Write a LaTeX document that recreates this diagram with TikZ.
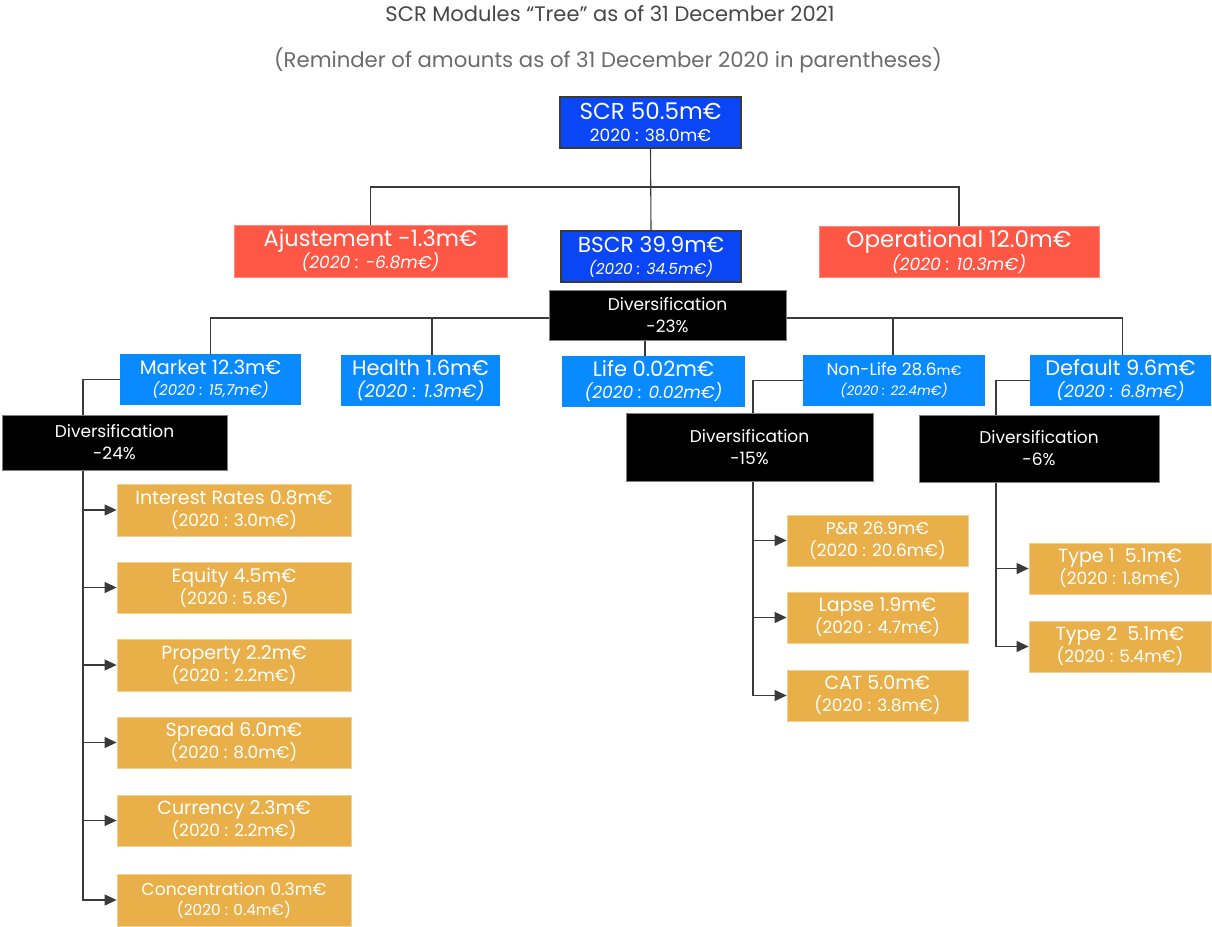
\documentclass[tikz,border=0pt]{standalone}
\usepackage{fontspec}
\setmainfont{Poppins}
\usetikzlibrary{arrows.meta}
\pgfdeclarelayer{background}
\pgfsetlayers{background,main}
\definecolor{dblue}{HTML}{0A46F5}
\definecolor{lblue}{HTML}{0A8AFF}
\definecolor{tred}{HTML}{FF5745}
\definecolor{torange}{HTML}{E9B04A}
\definecolor{lnc}{HTML}{3A3A3A}
\newcommand\fsz[2]{\fontsize{#1}{#2}\selectfont}
\tikzset{
  bx/.style={rectangle, inner sep=0pt, align=center, text=white, font=\fsz{17}{22}},
  dbbox/.style={bx, fill=dblue, draw=lnc, line width=1.8pt},
  lbbox/.style={bx, fill=lblue},
  rdbox/.style={bx, fill=tred, draw=tred!70!white, line width=0.6pt},
  blbox/.style={bx, fill=black, draw=gray, line width=0.6pt},
  orbox/.style={bx, fill=torange, draw=torange!60!white, line width=0.8pt},
  conn/.style={draw=lnc, line width=1.1pt},
  arr/.style={conn, -{Triangle[length=12pt,width=11pt]}},
}
\begin{document}
\begin{tikzpicture}[x=1pt,y=-1pt]
\begin{pgfonlayer}{background}
\path[use as bounding box, fill=white] (0,0) rectangle (1212,926);
\end{pgfonlayer}

\node[font=\fsz{21}{22}, text=black!72] (title) at (610,14) {SCR Modules “Tree” as of 31 December 2021};
\node[font=\fsz{21.2}{23}, text=black!58] (sub) at (608,60) {(Reminder of amounts as of 31 December 2020 in parentheses)};

% level 1
\node[dbbox, minimum width=181, minimum height=51] (SCR) at (650.5,122.5)
  {\fsz{23}{23}SCR 50.5m€\\\fsz{17}{17}2020 : 38.0m€};
\node[rdbox, minimum width=273, minimum height=52] (AJ) at (370.5,251)
  {\fsz{22.5}{22}Ajustement -1.3m€\\\fsz{17}{17}\itshape (2020 : -6.8m€)};
\node[dbbox, minimum width=180, minimum height=51] (BSCR) at (651,256.5)
  {\fsz{21.7}{21}BSCR 39.9m€\\\fsz{15.3}{15}\itshape (2020 : 34.5m€)};
\node[rdbox, minimum width=280, minimum height=51] (OP) at (959,251.5)
  {\fsz{23}{23}Operational 12.0m€\\\fsz{17.2}{17}\itshape (2020 : 10.3m€)};

\node[blbox, minimum width=237, minimum height=50] (D23) at (667.5,315)
  {Diversification\\-23\%};

% level 2
\node[lbbox, minimum width=181, minimum height=51, font=\fsz{15}{21}] (MK) at (210.5,379.5)
  {\fsz{19.6}{19}Market 12.3m€\\\fsz{15}{15}\itshape (2020 : 15,7m€)};
\node[lbbox, minimum width=159, minimum height=51] (HE) at (420.5,380.5)
  {\fsz{21}{21}Health 1.6m€\\\fsz{17.8}{17}\itshape (2020 : 1.3m€)};
\node[lbbox, minimum width=183, minimum height=51] (LI) at (653.5,381.5)
  {\fsz{21}{21}Life 0.02m€\\\fsz{17}{17}\itshape (2020 : 0.02m€)};
\node[lbbox, minimum width=182, minimum height=51, font=\fsz{14}{20}] (NL) at (894,380.5)
  {\fsz{17}{17}Non-Life 28.6{\fsz{13.5}{13}m€}\\\fsz{13.3}{13}\itshape (2020 : 22.4m€)};
\node[lbbox, minimum width=181, minimum height=51] (DF) at (1120.5,380.5)
  {\fsz{21}{21}Default 9.6m€\\\fsz{17}{17}\itshape (2020 : 6.8m€)};

\node[blbox, minimum width=225, minimum height=55] (D24) at (114.5,442.5)
  {Diversification\\-24\%};
\node[blbox, minimum width=247, minimum height=68] (D15) at (749.5,447)
  {Diversification\\-15\%};
\node[blbox, minimum width=240, minimum height=67] (D6) at (1039,448.5)
  {Diversification\\-6\%};

% market sub-modules
\node[orbox, minimum width=234, minimum height=52] (IR) at (234,510)
  {\fsz{19}{19}Interest Rates 0.8m€\\(2020 : 3.0m€)};
\node[orbox, minimum width=234, minimum height=51] (EQ) at (234,587.5)
  {\fsz{19}{19}Equity 4.5m€\\(2020 : 5.8€)};
\node[orbox, minimum width=234, minimum height=52] (PR) at (234,665)
  {\fsz{19}{19}Property 2.2m€\\(2020 : 2.2m€)};
\node[orbox, minimum width=234, minimum height=51] (SP) at (234,742.5)
  {\fsz{19}{19}Spread 6.0m€\\(2020 : 8.0m€)};
\node[orbox, minimum width=234, minimum height=51] (CU) at (234,820.5)
  {\fsz{19}{19}Currency 2.3m€\\(2020 : 2.2m€)};
\node[orbox, minimum width=234, minimum height=52, font=\fsz{15.3}{20}] (CO) at (234,900)
  {\fsz{17.2}{17}Concentration 0.3m€\\(2020 : 0.4m€)};

% non-life sub-modules
\node[orbox, minimum width=181, minimum height=51] (PNR) at (877.5,540.5)
  {\fsz{17}{17}P\&R 26.9m€\\(2020 : 20.6m€)};
\node[orbox, minimum width=181, minimum height=51] (LA) at (877.5,617.5)
  {\fsz{19}{19}Lapse 1.9m€\\(2020 : 4.7m€)};
\node[orbox, minimum width=181, minimum height=51] (CAT) at (877.5,695.5)
  {\fsz{19}{19}CAT 5.0m€\\(2020 : 3.8m€)};

% default sub-modules
\node[orbox, minimum width=182, minimum height=51] (T1) at (1120,568.5)
  {\fsz{19}{19}Type 1~ 5.1m€\\(2020 : 1.8m€)};
\node[orbox, minimum width=182, minimum height=51] (T2) at (1120,646.5)
  {\fsz{19}{19}Type 2~ 5.1m€\\(2020 : 5.4m€)};

\coordinate (bus1) at (651,187);
\coordinate (bus2) at (650,318);
\coordinate (s1) at (83,470);
\coordinate (s2) at (753,481);
\coordinate (s3) at (996,482);

\begin{pgfonlayer}{background}
\draw[conn] (SCR.south) -- (BSCR.north);
\draw[conn] (AJ.north) |- (bus1) -| (OP.north);
\draw[conn, double=white, double distance=1.2pt, line width=0.8pt] (BSCR.south) -- (BSCR.south |- D23.north);
\draw[conn] (MK.north) |- (bus2) -| ([xshift=2pt]DF.north);
\draw[conn] ([xshift=11.5pt]HE.north) -- ([xshift=11.5pt]HE.north |- bus2);
\draw[conn] ([xshift=-1pt]NL.north) -- ([xshift=-1pt]NL.north |- bus2);
\draw[conn] ([xshift=-8.5pt]LI.north) -- ([xshift=-8.5pt]LI.north |- D23.south);
% market
\draw[conn] (MK.west) -| (s1 |- D24.north);
\draw[arr] (s1) |- (CO.west);
\foreach \n in {IR,EQ,PR,SP,CU} \draw[arr] (s1 |- \n.west) -- (\n.west);
% non-life
\draw[conn] (NL.west) -| (s2 |- D15.north);
\draw[arr] (s2) |- (CAT.west);
\foreach \n in {PNR,LA} \draw[arr] (s2 |- \n.west) -- (\n.west);
% default
\draw[conn] (DF.west) -| (s3 |- D6.north);
\draw[arr] (s3) |- (T2.west);
\draw[arr] (s3 |- T1.west) -- (T1.west);
\end{pgfonlayer}
\end{tikzpicture}
\end{document}
